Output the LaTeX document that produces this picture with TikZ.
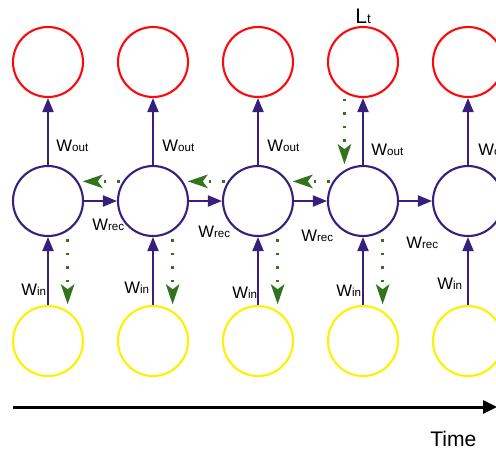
\documentclass[tikz,border=0pt]{standalone}
\usepackage{fontspec}
\setmainfont{Liberation Sans}
\usetikzlibrary{arrows.meta}

\definecolor{rnnred}{RGB}{250,10,10}
\definecolor{rnnblue}{RGB}{55,32,125}
\definecolor{rnnyellow}{RGB}{255,240,0}
\definecolor{rnngreen}{RGB}{50,115,30}

\newcommand{\wsub}[1]{{\fontsize{6.6}{8}\selectfont #1}}

\tikzset{
  unit/.style={circle, draw, line width=1.2pt, minimum size=1.4cm, inner sep=0pt},
  outunit/.style={unit, draw=rnnred},
  hidunit/.style={unit, draw=rnnblue},
  inunit/.style={unit, draw=rnnyellow},
  fwd/.style={draw=rnnblue, line width=1.1pt, -{Triangle[length=0.28cm,width=0.22cm]}},
  back/.style={draw=rnngreen, line width=1.3pt, dash pattern=on 0.05cm off 0.22cm,
    -{Stealth[length=0.4cm,width=0.27cm,inset=0.1cm]}},
  wlab/.style={anchor=base west, inner sep=0pt, font=\fontsize{9.5}{11}\selectfont},
  biglab/.style={anchor=base west, inner sep=0pt, font=\fontsize{12}{14}\selectfont},
  timeline/.style={line width=1.7pt, -{Triangle[length=0.28cm,width=0.26cm]}}
}

\begin{document}
\begin{tikzpicture}[x=0.02cm,y=-0.02cm]
  \useasboundingbox (0,0) rectangle (496,451);
  \foreach \i/\x in {1/48,2/153,3/258,4/363,5/468}{
    % Units of one time step
    \node[outunit] (o\i) at (\x,62) {};
    \node[hidunit] (h\i) at (\x,201) {};
    \node[inunit] (x\i) at (\x,341) {};
    % Forward connections
    \draw[fwd] (x\i) -- (h\i);
    \draw[fwd] (h\i) -- (o\i);
  }
  % Recurrent connections
  \foreach \i/\j in {1/2,2/3,3/4,4/5}
    \draw[fwd] (h\i) -- (h\j);
  % Gradient flowing back
  \draw[back] ([yshift=-0.12cm]o4.-121) -- ([yshift=0.12cm]h4.121);
  \foreach \i/\j in {2/1,3/2,4/3}
    \draw[back, shorten <=0.06cm, shorten >=0.09cm] (h\i.147) -- (h\j.33);
  \foreach \i in {1,...,4}
    \draw[back] ([yshift=-0.16cm]h\i.-57) -- ([yshift=0.13cm]x\i.57);
  % Weight labels
  \foreach \n/\x/\y in {1/56/151,2/162/151,3/267/151,4/371/155,5/478/155}
    \node[wlab] (wout\n) at (\x,\y) {W\wsub{out}};
  \foreach \n/\x/\y in {1/92/230,2/198/237,3/301/241,4/406/248}
    \node[wlab] (wrec\n) at (\x,\y) {W\wsub{rec}};
  \foreach \n/\x/\y in {1/21/295,2/124/293,3/232/298,4/336/296,5/437/289}
    \node[wlab] (win\n) at (\x,\y) {W\wsub{in}};
  \node[biglab] (loss) at (355,23) {L{\fontsize{7.7}{9}\selectfont t}};
  % Time axis
  \coordinate (tstart) at (13,407);
  \coordinate (tend) at (497,407);
  \draw[timeline] (tstart) -- (tend);
  \node[biglab] (time) at (430,446) {Time};
\end{tikzpicture}
\end{document}
